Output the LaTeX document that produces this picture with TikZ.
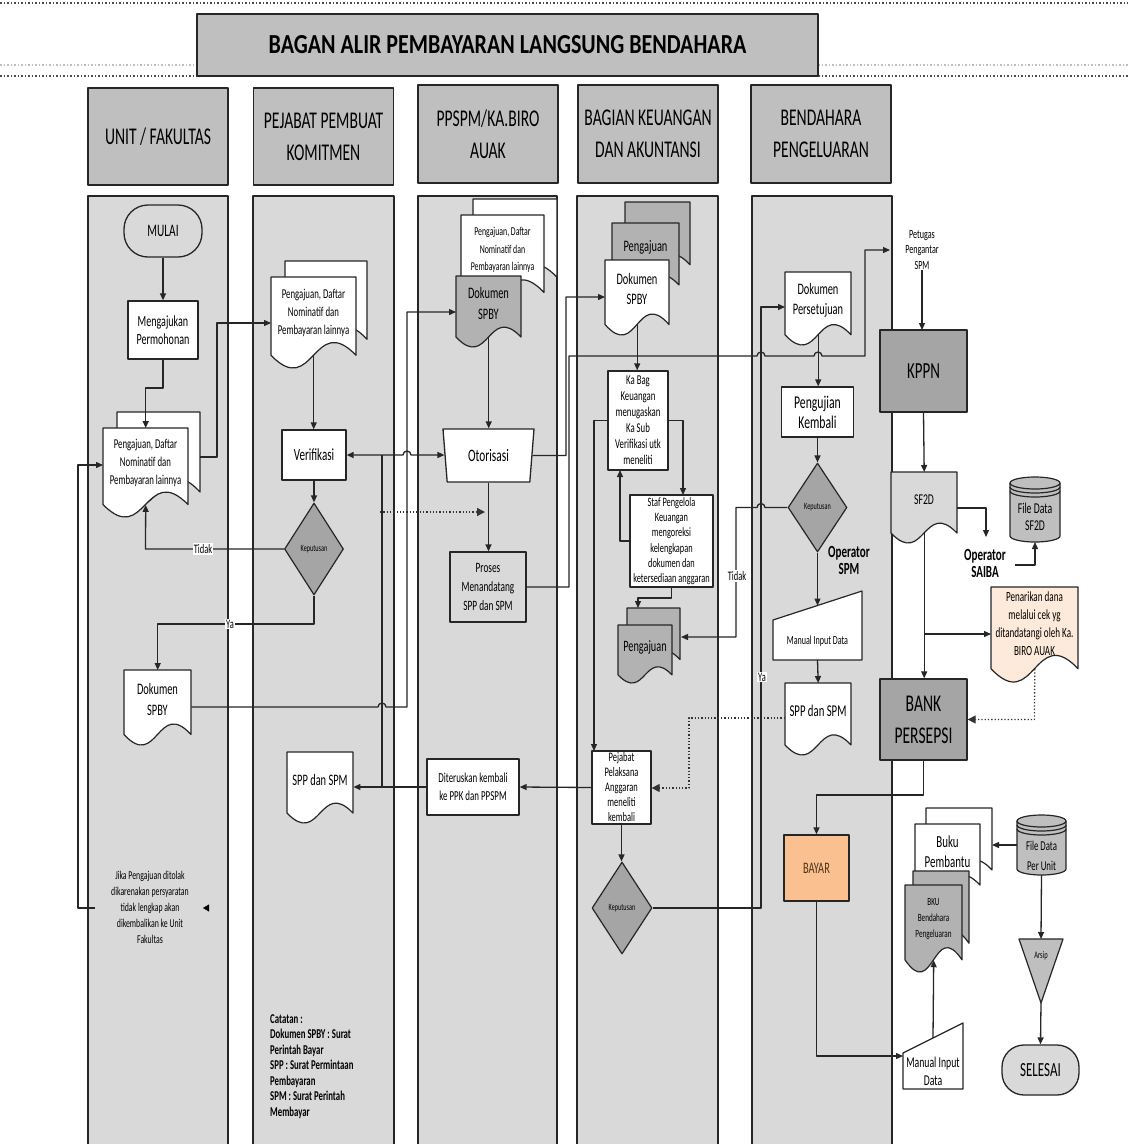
\documentclass[tikz,border=0pt]{standalone}
\usepackage{fontspec}
\setmainfont{Carlito}[FakeStretch=0.65]
\newfontfamily\titlefont{Carlito}[FakeStretch=0.8]
\usetikzlibrary{arrows.meta,shapes.geometric}
\definecolor{lanegray}{HTML}{D9D9D9}
\definecolor{headgray}{HTML}{BFBFBF}
\definecolor{darkgraytwo}{HTML}{A5A5A5}
\definecolor{midgray}{HTML}{B2B2B2}
\definecolor{peach}{HTML}{FAC090}
\definecolor{lightpeach}{HTML}{FDEADA}
\newcommand\setfs[2]{\fontsize{#1}{#2}\selectfont}
% document shape: #1 style, #2 x1, #3 y1, #4 x2, #5 y2 (lowest point)
\newcommand\docshape[5]{%
  \filldraw[shp,#1] ({#2},{#3}) -- ({#4},{#3}) -- ({#4},{#3+0.86*(#5-#3)})
    .. controls ({#2+0.5*(#4-#2)},{#3+0.375*(#5-#3)}) and ({#2+0.5*(#4-#2)},{#3+1.345*(#5-#3)}) ..
    ({#2},{#3+0.86*(#5-#3)}) -- cycle;}
% document with named node: #1 name, #2 fill, #3..#6 box, #7 font, #8 text
\newcommand\docnode[8]{%
  \docshape{fill=#2}{#3}{#4}{#5}{#6}
  \node[doctext, minimum width={#5-#3}, minimum height={0.86*(#6-#4)}, anchor=north west] (#1) at ({#3},{#4}) {};
  \node[doctext, font=#7] (#1-t) at ({(#3+#5)/2},{#4+0.39*(#6-#4)}) {#8};}
% cylinder: #1 fill, #2 x1, #3 y1, #4 x2, #5 y2
\newcommand\cylshape[5]{%
  \pgfmathsetmacro\crx{(#4-#2)/2}
  \filldraw[shp, fill=#1] ({#2},{#3+6}) -- ({#2},{#5-6}) arc[start angle=180,end angle=0,x radius=\crx,y radius=6]
    -- ({#4},{#3+6}) arc[start angle=0,end angle=-180,x radius=\crx,y radius=6] -- cycle;
  \draw[shp] ({#2},{#3+6}) arc[start angle=180,end angle=0,x radius=\crx,y radius=6];
  \draw[shp] ({#2},{#3+10}) arc[start angle=180,end angle=0,x radius=\crx,y radius=6];
  \draw[shp] ({#2},{#3+14}) arc[start angle=180,end angle=0,x radius=\crx,y radius=6];}
\begin{document}
\begin{tikzpicture}[x=1pt,y=-1pt,line join=round,
  shp/.style={draw=black!85, line width=1.2pt},
  ln/.style={line width=1.3pt, draw=black!85},
  arr/.style={ln, -{Triangle[length=7pt,width=6pt]}},
  dotarr/.style={line width=1.3pt, draw=black!80, dotted, -{Triangle[length=8pt,width=8pt]}},
  box/.style={draw=black!85, line width=1.3pt, fill=white, inner sep=0pt, align=center},
  txt/.style={inner sep=0pt, align=center},
  doctext/.style={inner sep=0pt, align=center},
  head/.style={draw=black!85, line width=1.5pt, fill=headgray, inner sep=0pt, align=center, font=\setfs{24}{32}},
  dia/.style={diamond, draw=black!85, line width=1.2pt, fill=darkgraytwo, inner sep=0pt, font=\setfs{9.5}{10}},
  lab/.style={fill=white, inner sep=1pt, font=\setfs{13}{14}}
]
\useasboundingbox (0,0) rectangle (1128,1144);
\fill[white] (0,0) rectangle (1128,1144);

% top dotted lines
\draw[line width=1.5pt, dotted, black!70] (0,3) -- (1128,3);
\draw[line width=1.5pt, dotted, black!25] (0,65) -- (197,65) (818,65) -- (1128,65);
\draw[line width=1.5pt, dotted, black!70] (0,76) -- (197,76) (818,76) -- (1128,76);

% title
\node[head, minimum width=621, minimum height=62, font=\titlefont\bfseries\setfs{27.5}{28}] (title) at (507.5,45) {BAGAN ALIR PEMBAYARAN LANGSUNG BENDAHARA};

% lanes
\foreach \a/\b in {88/228, 253/394, 418/557, 577/718, 752/892} {
  \fill[lanegray] (\a,196) rectangle (\b,1144);
  \draw[line width=1.5pt, black!85] (\a,1144) -- (\a,196) -- (\b,196) -- (\b,1144);
}
\node[head, minimum width=140, minimum height=97] (h1) at (158,136.5) {UNIT / FAKULTAS};
\node[head, minimum width=140, minimum height=97] (h2) at (323.5,136.5) {PEJABAT PEMBUAT\\KOMITMEN};
\node[head, minimum width=140, minimum height=98] (h3) at (488,134) {PPSPM/KA.BIRO\\AUAK};
\node[head, minimum width=140, minimum height=98] (h4) at (648,134) {BAGIAN KEUANGAN\\DAN AKUNTANSI};
\node[head, minimum width=140, minimum height=98] (h5) at (821,134) {BENDAHARA\\PENGELUARAN};

% ---------- lane 1
\node[draw=black!85, line width=1.3pt, fill=lanegray, rounded corners=24pt, minimum width=78, minimum height=52, font=\setfs{17.5}{20}] (mulai) at (163,231) {MULAI};
\node[box, minimum width=70, minimum height=58, font=\setfs{15.5}{18}] (ajukan) at (163,330) {Mengajukan\\Permohonan};
\docshape{fill=white}{117}{412}{200}{505}
\docnode{pd1}{white}{103}{428}{188}{517}{\setfs{13.5}{18}}{Pengajuan, Daftar\\Nominatif dan\\Pembayaran lainnya}
\docnode{spby1}{white}{124}{670}{191}{745}{\setfs{16}{21}}{Dokumen\\SPBY}
\node[txt, font=\setfs{12}{16}] (note1) at (150,907) {Jika Pengajuan ditolak\\dikarenakan persyaratan\\tidak lengkap akan\\dikembalikan ke Unit\\Fakultas};

% ---------- lane 2
\docshape{fill=white}{285}{261}{367}{352}
\docnode{pd2}{white}{271}{277}{356}{368}{\setfs{13.5}{18}}{Pengajuan, Daftar\\Nominatif dan\\Pembayaran lainnya}
\node[box, minimum width=64, minimum height=50, font=\setfs{17}{20}] (verif) at (314,455) {Verifikasi};
\node[dia, minimum width=59, minimum height=92] (kep1) at (314,549) {Keputusan};
\docnode{spp2}{white}{287}{752}{353}{823}{\setfs{16}{20}}{SPP dan SPM}
\node[txt, align=left, anchor=north west, font=\bfseries\setfs{13.5}{15.5}] (catatan) at (270,1014) {Catatan :\\Dokumen SPBY : Surat\\Perintah Bayar\\SPP : Surat Permintaan\\Pembayaran\\SPM : Surat Perintah\\Membayar};

% ---------- lane 3
\docshape{fill=white}{473}{199}{557}{290}
\docnode{pd3}{white}{461}{215}{544}{305}{\setfs{12}{17.5}}{Pengajuan, Daftar\\Nominatif dan\\Pembayaran lainnya}
\docnode{spby3}{midgray}{456}{276}{521}{347}{\setfs{16}{21}}{Dokumen\\SPBY}
\node[trapezium, shape border rotate=180, trapezium left angle=71, trapezium right angle=71,
  trapezium stretches body, minimum width=91, minimum height=53, draw=black!85, line width=1.3pt,
  fill=white, inner sep=0pt, font=\setfs{17.5}{20}] (otor) at (488.5,455.5) {Otorisasi};
\node[box, fill=lanegray, minimum width=76, minimum height=70, font=\setfs{14.3}{19}] (proses) at (488,587) {Proses\\Menandatang\\SPP dan SPM};
\node[box, minimum width=92, minimum height=56, font=\setfs{13.7}{18}] (terus) at (473,787) {Diteruskan kembali\\ke PPK dan PPSPM};

% ---------- lane 4
\docshape{fill=midgray}{625}{202}{690}{275}
\docshape{fill=midgray}{612}{223}{679}{295}
\node[txt, font=\setfs{16}{18}] (pj4t) at (645.5,247) {Pengajuan};
\docnode{spby4}{white}{605}{260}{669}{335}{\setfs{16}{20}}{Dokumen\\SPBY}
\node[box, minimum width=60, minimum height=99, font=\setfs{13.5}{16}] (kabag) at (638,420.5) {Ka Bag\\Keuangan\\menugaskan\\Ka Sub\\Verifikasi utk\\meneliti};
\node[box, minimum width=83, minimum height=92, font=\setfs{12.8}{15.3}] (staf) at (671.5,541) {Staf Pengelola\\Keuangan\\mengoreksi\\kelengkapan\\dokumen dan\\ketersediaan anggaran};
\docshape{fill=midgray}{627}{608}{680}{668}
\docnode{pj4b}{midgray}{618}{625}{672}{683}{\setfs{15.8}{18}}{Pengajuan}
\node[box, minimum width=59, minimum height=73, font=\setfs{13}{15}] (pejabat) at (621.5,787.5) {Pejabat\\Pelaksana\\Anggaran\\meneliti\\kembali};
\node[dia, minimum width=60, minimum height=92] (kep2) at (622,908) {Keputusan};

% ---------- lane 5
\docnode{persetujuan}{white}{785}{272}{851}{345}{\setfs{16}{20}}{Dokumen\\Persetujuan}
\node[box, minimum width=72, minimum height=50, font=\setfs{18}{20}] (uji) at (817.5,412) {Pengujian\\Kembali};
\node[dia, minimum width=59, minimum height=89] (kep3) at (817.5,507.5) {Keputusan};
\node[txt, font=\bfseries\setfs{17}{17}] (opspm) at (849,560) {Operator\\SPM};
\filldraw[shp, fill=white] (773,620) -- (862,591) -- (862,660) -- (773,660) -- cycle;
\node[txt, font=\setfs{12.4}{14}] (mi1) at (817.5,641) {Manual Input Data};
\coordinate (mi1N) at (817.5,605.5);
\coordinate (mi1S) at (817.5,660);
\docnode{spp5}{white}{785}{683}{851}{755}{\setfs{16.5}{20}}{SPP dan SPM}

% ---------- outside
\node[txt, font=\setfs{12.5}{15.5}] (petugas) at (922,250) {Petugas\\Pengantar\\SPM};
\node[draw=black!85, line width=1.3pt, fill=darkgraytwo, inner sep=0pt, minimum width=87, minimum height=82, font=\setfs{23}{26}] (kppn) at (923.5,371) {KPPN};
\docnode{sf2d}{lanegray}{891}{472}{957}{543}{\setfs{15}{18}}{SF2D}
\node[txt, font=\bfseries\setfs{17}{17}] (saiba) at (985,563) {Operator\\SAIBA};
\cylshape{headgray}{1010}{477}{1060}{542}
\node[txt, font=\setfs{15}{17}] (fdsf) at (1035,517) {File Data\\SF2D};
\coordinate (cyl1S) at (1035,542);
\docnode{penarikan}{lightpeach}{991}{587}{1078}{682}{\setfs{14}{18}}{Penarikan dana\\melalui cek yg\\ditandatangi oleh Ka.\\BIRO AUAK}
\node[draw=black!85, line width=1.3pt, fill=darkgraytwo, inner sep=0pt, minimum width=87, minimum height=81, align=center, font=\setfs{24}{32}] (bank) at (923.5,719.5) {BANK\\PERSEPSI};
\node[draw=black!85, line width=1.3pt, fill=peach, inner sep=0pt, minimum width=65, minimum height=66, font=\setfs{16}{18}, text=brown!40!black] (bayar) at (816.5,868) {BAYAR};
\filldraw[shp, fill=white] (903,1053) -- (963,1023) -- (963,1089) -- (903,1089) -- cycle;
\node[txt, font=\setfs{15}{18}] (mi2) at (933,1071) {Manual Input\\Data};
\coordinate (mi2N) at (933,1038);
\coordinate (mi2W) at (903,1056);
\docshape{fill=white}{926}{808}{992}{880}
\docnode{buku}{white}{915}{824}{980}{895}{\setfs{16.8}{20}}{Buku\\Pembantu}
\docshape{fill=midgray}{913}{871}{969}{955}
\docnode{bku}{midgray}{905}{885}{962}{972}{\setfs{11}{16}}{BKU\\Bendahara\\Pengeluaran}
\cylshape{headgray}{1017}{815}{1066}{875}
\node[txt, font=\setfs{13.5}{20}] (fdunit) at (1041.5,856) {File Data\\Per Unit};
\coordinate (cyl2W) at (1017,845);
\coordinate (cyl2S) at (1041.5,875);
\filldraw[shp, fill=headgray] (1019,939) -- (1063,939) -- (1041,1003) -- cycle;
\node[txt, font=\setfs{10}{12}] (arsip) at (1041,956) {Arsip};
\coordinate (arsipN) at (1041,939);
\coordinate (arsipS) at (1041,1003);
\node[draw=black!85, line width=1.3pt, fill=lanegray, rounded corners=22pt, minimum width=77, minimum height=50, font=\setfs{20}{22}] (selesai) at (1040.5,1070) {SELESAI};

% ---------- connectors
\draw[arr] (mulai) -- (ajukan);
\draw[arr] (ajukan.south) -- (163,388) -| (pd1.north);
\draw[arr] (200,457) -- (217,457) -- (217,323) -- (271,323);
\draw[arr] (kep1.west) -- (145.5,549) -- (pd1.south);
\node[lab] (tidak1) at (203,549) {Tidak};
\draw[arr] (kep1.south) -- (314,624) -| (spby1.north);
\node[lab] (ya1) at (230,624) {Ya};
\draw[arr] (spby1.east |- 0,707) -- (378,707) arc[start angle=180,end angle=360,radius=4] -- (407,707) -- (407,312) -- (456,312);
\draw[ln, {Triangle[length=7pt,width=6pt]}-{Triangle[length=7pt,width=6pt]}] (verif.east) -- (403,455) arc[start angle=180,end angle=360,radius=4] -- (otor.west |- verif.east);
\draw[ln] (382,455) -- (382,787);
\draw[dotarr] (380,512) -- (485,512);
\draw[arr] (pd2.south) -- (pd2.south |- verif.north);
\draw[arr] (verif.south) -- (verif.south |- kep1.north);
\draw[arr] (spby3.south) -- (spby3.south |- otor.north);
\draw[arr] (otor.east) -- (566,455.5) -- (566,297) -- (605,297);
\draw[arr] (otor.south) -- (otor.south |- proses.north);
\draw[arr] (proses.east) -- (569,587) -- (569,356) -- (757,356) arc[start angle=180,end angle=360,radius=4] -- (814,356) arc[start angle=180,end angle=360,radius=4] -- (865,356) -- (865,250) -- (890,250);
\draw[arr] (spby4.south) -- (spby4.south |- kabag.north);
\draw[arr] (kabag.east) -- (683,420.5) -- (683,495);
\draw[arr] (staf.west) -- (620,541) -- (620,470);
\draw[arr] (kabag.west) -- (594,420.5) -- (594,751);
\draw[arr] (staf.south) -- (671.5,598) -- (638,598) -- (638,608);
\draw[arr] (kep3.west) -- (765,507.5) arc[start angle=0,end angle=-180,radius=4] -- (736,507.5) -- (736,637) -- (681,637);
\node[lab] (tidak2) at (737,576) {Tidak};
\draw[dotarr] (785,718) -- (689,718) -- (689,788) -- (pejabat.east |- 0,788);
\draw[arr] (pejabat.west) -- (terus.east);
\draw[arr] (terus.west) -- (spp2.east |- terus.west);
\draw[arr] (pejabat.south) -- (pejabat.south |- kep2.north);
\draw[arr] (kep2.east) -- (761,908) -- (761,307) -- (785,307);
\node[lab] (ya2) at (762,677) {Ya};
\draw[arr] (persetujuan.south) -- (persetujuan.south |- uji.north);
\draw[arr] (uji.south) -- (uji.south |- kep3.north);
\draw[arr] (kep3.south) -- (mi1N);
\draw[arr] (mi1S) -- (spp5.north);
\draw[arr] (petugas.south -| 922,0) -- (922,282) -- (922,330);
\draw[arr] (kppn.south) -- (sf2d.north);
\draw[arr] (957,508) -- (986,508) -- (986,537);
\draw[arr] (1015,565) -- (1035,565) -- (cyl1S);
\draw[arr] (sf2d.south) -- (sf2d.south |- bank.north);
\draw[arr] (924,634) -- (991,634);
\draw[dotarr] (penarikan.south) -- (1034.5,719.5) -- (bank.east);
\draw[arr] (bank.south) -- (923.5,795) -| (bayar.north);
\draw[arr] (bayar.south) -- (816.5,1056) -- (mi2W);
\draw[arr] (mi2N) -- (bku.south);
\draw[arr] (cyl2W) -- (992,845);
\draw[arr] (cyl2S) -- (arsipN);
\draw[arr] (arsipS) -- (selesai.north);
\draw[arr] (95,908) -- (78,908) -- (78,465) -- (103,465);
\draw[-{Triangle[length=6pt,width=7pt]}] (207,908) -- (203,908);
\end{tikzpicture}
\end{document}
